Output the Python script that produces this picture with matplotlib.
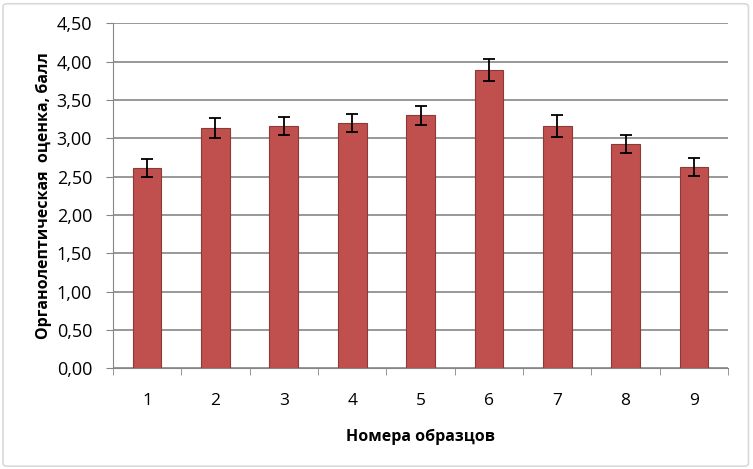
import numpy as np
import matplotlib.pyplot as plt
from matplotlib.patches import FancyBboxPatch

# данные
samples = ['1', '2', '3', '4', '5', '6', '7', '8', '9']
scores = [2.61, 3.14, 3.16, 3.20, 3.30, 3.89, 3.16, 2.93, 2.63]
errors = [0.12, 0.13, 0.12, 0.12, 0.12, 0.14, 0.14, 0.12, 0.12]
yticks = np.arange(0, 4.51, 0.5)

plt.rcParams['font.family'] = ['Open Sans', 'DejaVu Sans']

fig = plt.figure(figsize=(7.53, 4.69), dpi=100)
ax = fig.add_axes([0.150, 0.2147, 0.817, 0.7353])

# рамка вокруг диаграммы
fig.patches.append(FancyBboxPatch((0.004, 0.006), 0.99, 0.986,
                                  boxstyle='round,pad=0,rounding_size=0.006',
                                  transform=fig.transFigure, fill=False,
                                  edgecolor='#d9d9d9', linewidth=1.2))

x = np.arange(1, len(samples) + 1)
ax.bar(x, scores, width=0.42, color='#C0504D', edgecolor='#8C3A38',
       linewidth=0.8, zorder=3)
ax.errorbar(x, scores, yerr=errors, fmt='none', ecolor='black',
            elinewidth=1.3, capsize=4, capthick=1.3, zorder=4)

ax.set_xlim(0.5, 9.5)
ax.set_ylim(0, 4.5)
ax.set_yticks(yticks)
ax.set_yticklabels([f'{v:.2f}'.replace('.', ',') for v in yticks], fontsize=13)
ax.set_xticks(x)
ax.set_xticklabels(samples, fontsize=12.5)
ax.set_xticks(np.arange(0.5, 9.6, 1), minor=True)
ax.tick_params(axis='x', which='major', length=0, pad=18)
ax.tick_params(axis='x', which='minor', length=5, color='#868686')
ax.tick_params(axis='y', length=5, color='#868686', pad=10)

ax.grid(axis='y', color='#868686', linewidth=1.2, zorder=0)
ax.set_axisbelow(True)
for s in ['top', 'right']:
    ax.spines[s].set_visible(False)
for s in ['left', 'bottom']:
    ax.spines[s].set_color('#868686')

ax.set_xlabel('Номера образцов', fontsize=11.5, fontweight='bold', labelpad=14)
ax.set_ylabel('Органолептическая  оценка, балл', fontsize=11.5, fontweight='bold',
              labelpad=3)

fig.savefig('out.png', dpi=100)
